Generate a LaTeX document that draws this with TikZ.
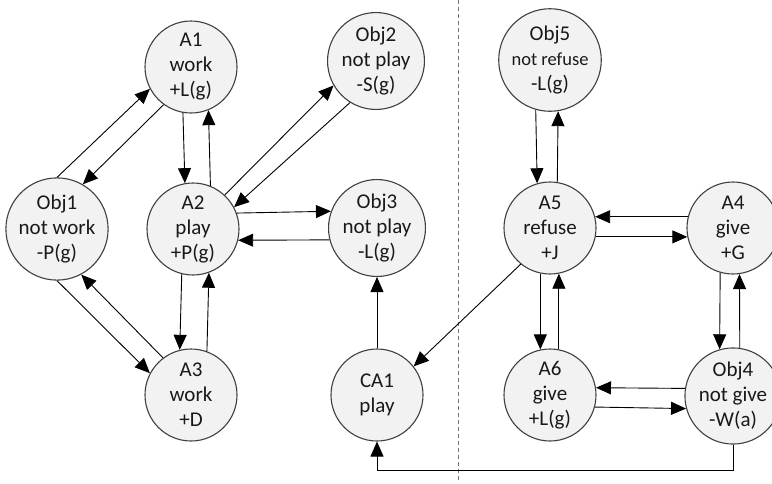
\documentclass[tikz,border=0pt]{standalone}
\usepackage{fontspec}
\setmainfont{Carlito}
\usetikzlibrary{arrows.meta}

\tikzset{
  state/.style={circle, draw=black!75, line width=1.1pt, fill=black!5,
    minimum size=92pt, inner sep=0pt, align=center, text=black!90,
    font=\fontsize{21}{25}\selectfont},
  arr/.style={-{Triangle[length=15pt,width=13pt]}, line width=0.9pt}
}

\begin{document}
\begin{tikzpicture}[x=1pt, y=-1pt]
\useasboundingbox (0,0) rectangle (772,483);

% First the left half: the play/work game
\node[state] (A1)   at (191,67)  {A1\\work\\+L(g)};
\node[state] (Obj2) at (376,61)  {Obj2\\not play\\-S(g)};
\node[state] (Obj1) at (57,229)  {Obj1\\not work\\-P(g)};
\node[state] (A2)   at (193,229) {A2\\play\\+P(g)};
\node[state] (Obj3) at (377,228) {Obj3\\not play\\-L(g)};
\node[state] (A3)   at (191,395) {A3\\work\\+D};
\node[state] (CA1)  at (377,395) {CA1\\play};

% Now the right half
\node[state] (Obj5) at (550,60)  {Obj5\\{\fontsize{18.5}{25}\selectfont not refuse}\\-L(g)};
\node[state] (A5)   at (550,228) {A5\\refuse\\+J};
\node[state] (A4)   at (733,228) {A4\\give\\+G};
\node[state] (A6)   at (550,395) {A6\\give\\+L(g)};
\node[state] (Obj4) at (733,396) {Obj4\\not give\\-W(a)};

% the separating line
\coordinate (sepTop) at (458,0);
\coordinate (sepBot) at (458,483);
\draw[black!55, line width=0.9pt, dash pattern=on 4pt off 3pt] (sepTop) -- (sepBot);

% arrows round A1 and A2
\draw[arr] (Obj1.90)  -- (A1.208);
\draw[arr] (A1.234)   -- (Obj1.60);
\draw[arr] (A1.-100)  -- (A2.100);
\draw[arr] (A2.68)    -- (A1.-68);
\draw[arr] (A2.47)    -- (Obj2.210);
\draw[arr] (Obj2.238) -- (A2.28);
\draw[arr] (A2.20)    -- (Obj3.160);
\draw[arr] (Obj3.-166) -- (A2.-14);

% arrows round A3
\draw[arr] (A2.-104)  -- (A3.104);
\draw[arr] (A3.70)    -- (A2.-70);
\draw[arr] (Obj1.-90) -- (A3.152);
\draw[arr] (A3.127)   -- (Obj1.-62);
\draw[arr] (CA1.90)   -- (Obj3.-90);

% arrows on the right
\draw[arr] (A5.231)   -- (CA1.38);
\draw[arr] (Obj5.-106) -- (A5.106);
\draw[arr] (A5.81)    -- (Obj5.-81);
\draw[arr] (A4.166)   -- (A5.14);
\draw[arr] (A5.-11)   -- (A4.-169);
\draw[arr] (A5.-102)  -- (A6.102);
\draw[arr] (A6.79)    -- (A5.-79);
\draw[arr] (A4.-106)  -- (Obj4.106);
\draw[arr] (Obj4.82)  -- (A4.-82);
\draw[arr] (Obj4.171) -- (A6.9);
\draw[arr] (A6.-15)   -- (Obj4.-165);
\draw[arr] (Obj4.south) -- ++(0,26) -| (CA1.south);
\end{tikzpicture}
\end{document}
